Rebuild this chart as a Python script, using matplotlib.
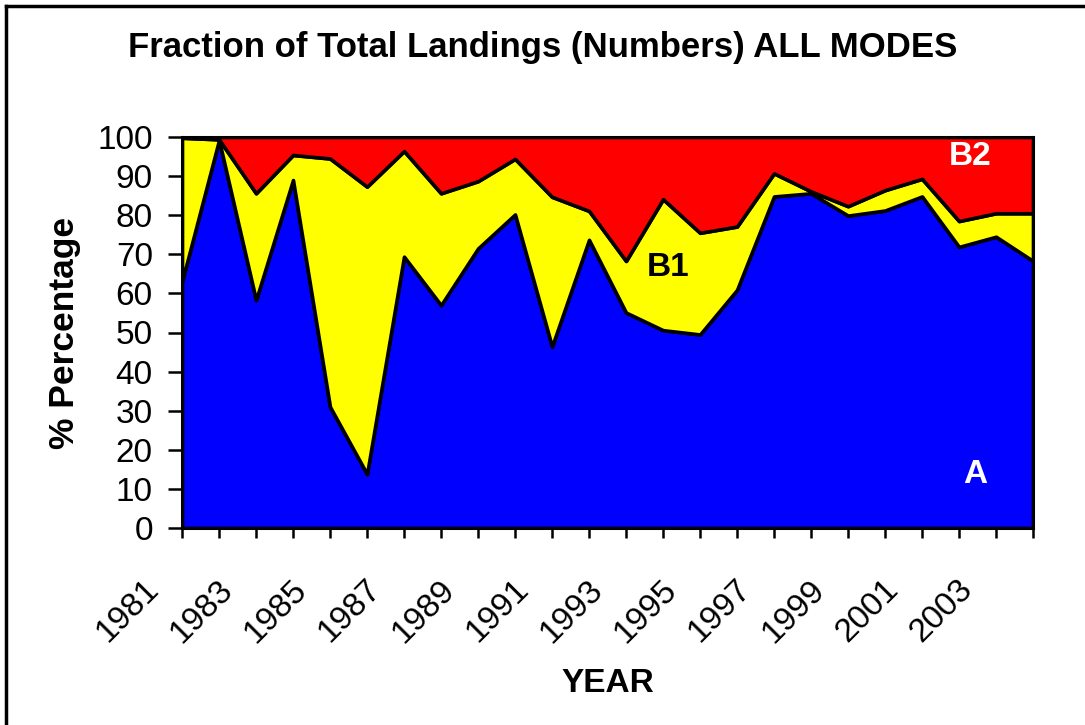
import matplotlib
matplotlib.use("Agg")
import matplotlib.pyplot as plt
import matplotlib.transforms as mtransforms
from matplotlib.lines import Line2D
import numpy as np

# --- Data: share of total landings (%) by mode ---
years = list(range(1981, 2005))
share_a = [63.0, 99.2, 58.3, 89.0, 31.0, 13.8, 69.4, 57.0, 71.5, 80.2, 46.4, 73.7,
           55.1, 50.6, 49.5, 60.9, 84.8, 85.6, 79.9, 81.2, 84.8, 71.9, 74.5, 68.3]
share_b1 = [36.8, 0.2, 27.3, 6.4, 63.5, 73.5, 27.0, 28.6, 17.2, 14.2, 38.3, 7.4,
            13.2, 33.5, 26.0, 16.2, 5.9, 0.5, 2.4, 5.2, 4.5, 6.6, 6.0, 12.2]
share_b2 = [0.2, 0.6, 14.4, 4.6, 5.5, 12.7, 3.6, 14.4, 11.3, 5.6, 15.3, 18.9,
            31.7, 15.9, 24.5, 22.9, 9.3, 13.9, 17.7, 13.6, 10.7, 21.5, 19.5, 19.5]
tick_years = [y for y in years if y % 2 == 1]

plt.rcParams['font.family'] = ['Liberation Sans', 'DejaVu Sans']

fig = plt.figure(figsize=(10.85, 7.25), dpi=100)
ax = fig.add_axes([182 / 1085, 1 - 528 / 725, (1033 - 182) / 1085, (528 - 137) / 725])

ax.stackplot(years, share_a, share_b1, share_b2,
             colors=['#0000FF', '#FFFF00', '#FF0000'],
             edgecolor='black', linewidth=2.6)

ax.set_xlim(1981, 2004)
ax.set_ylim(0, 100)
ax.set_yticks(range(0, 101, 10))
ax.set_xticks(years)
ax.set_xticklabels([str(y) if y in tick_years else '' for y in years])

ax.tick_params(axis='y', direction='out', length=10, width=1.8, pad=11, labelsize=24)
ax.tick_params(axis='x', direction='out', length=7, width=1.8, pad=34, labelsize=24)
for spine in ax.spines.values():
    spine.set_linewidth(2.2)

# rotated year labels, anchored at their right end, shifted left of the tick
shift = mtransforms.ScaledTranslation(-28 / 100, 0, fig.dpi_scale_trans)
for lab in ax.get_xticklabels():
    lab.set_rotation(45)
    lab.set_rotation_mode('anchor')
    lab.set_ha('right')
    lab.set_va('center')
    lab.set_transform(lab.get_transform() + shift)

ax.set_ylabel('% Percentage', fontsize=25.5, fontweight='bold', labelpad=12)
ax.set_xlabel('YEAR', fontsize=24, fontweight='bold', labelpad=14)

fig.text(0.5, 1 - 47 / 725, 'Fraction of Total Landings (Numbers) ALL MODES',
         ha='center', va='center', fontsize=25, fontweight='bold')

ax.text(2002.3, 94.9, 'B2', color='white', fontsize=24, fontweight='bold', ha='center', va='center')
ax.text(1994.15, 66.5, 'B1', color='black', fontsize=24, fontweight='bold', ha='center', va='center')
ax.text(2002.45, 13.6, 'A', color='white', fontsize=24, fontweight='bold', ha='center', va='center')

# outer chart frame (left and top edges visible in the original)
fig.add_artist(Line2D([6 / 1085, 6 / 1085], [0, 1 - 6 / 725], color='black', lw=2.5,
                      transform=fig.transFigure))
fig.add_artist(Line2D([6 / 1085, 1], [1 - 6 / 725, 1 - 6 / 725], color='black', lw=2.5,
                      transform=fig.transFigure))

fig.savefig('out.png', dpi=100)
